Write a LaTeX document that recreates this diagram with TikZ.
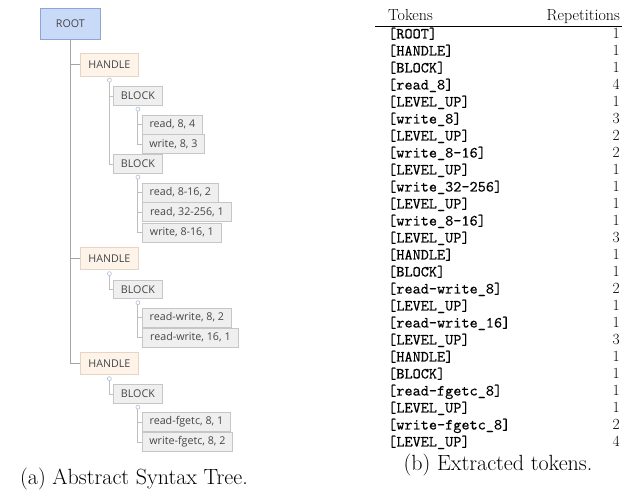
\documentclass[tikz,border=0pt]{standalone}
\usepackage{fontspec}
\newfontfamily\treefont{Open Sans}
\newfontfamily\tokfont{lmmono10-regular.otf}[FakeBold=0.4]
\definecolor{rootfill}{RGB}{201,218,248}
\definecolor{rootdraw}{RGB}{140,165,210}
\definecolor{handfill}{RGB}{253,243,233}
\definecolor{handdraw}{RGB}{232,212,195}
\definecolor{blkfill}{RGB}{239,239,239}
\definecolor{blkdraw}{RGB}{198,198,198}
\definecolor{treetext}{RGB}{70,70,70}
\definecolor{linecol}{RGB}{190,190,190}
\definecolor{rootline}{RGB}{165,165,165}
\definecolor{knob}{RGB}{175,192,220}
\begin{document}
\begin{tikzpicture}[x=1pt,y=-1pt,
  tbox/.style={draw, line width=0.8pt, font=\treefont\fontsize{10.7}{12}\selectfont,
    text=treetext, inner xsep=6pt, inner ysep=0pt, anchor=west},
  rootbox/.style={tbox, fill=rootfill, draw=rootdraw, minimum width=60pt, minimum height=31pt},
  handbox/.style={tbox, fill=handfill, draw=handdraw, minimum width=58pt, minimum height=22.5pt},
  blkbox/.style={tbox, fill=blkfill, draw=blkdraw, minimum width=49pt, minimum height=18.5pt},
  leafbox/.style={tbox, fill=blkfill, draw=blkdraw, minimum height=19pt},
  tline/.style={draw=linecol, line width=0.9pt},
  rline/.style={draw=rootline, line width=1pt},
  knobc/.style={draw=knob, fill=white, line width=0.6pt},
  tok/.style={anchor=base west, inner sep=0pt, font=\tokfont\fontsize{15.5}{16}\selectfont},
  num/.style={anchor=base east, inner sep=0pt, font=\fontsize{15.5}{16}\selectfont},
  hdr/.style={inner sep=0pt, font=\fontsize{16}{18}\selectfont},
  capt/.style={inner sep=0pt, font=\fontsize{22}{24}\selectfont}
]
\useasboundingbox (0,0) rectangle (625,494);

% ---------- tree ----------
\node[rootbox] (root) at (40,23.5) {ROOT};
\node[handbox] (h1) at (80,65) {HANDLE};
\node[blkbox] (b1) at (113,96) {BLOCK};
\node[leafbox, minimum width=60pt] (l1) at (142,124.5) {read, 8, 4};
\node[leafbox, minimum width=62pt] (l2) at (142,144) {write, 8, 3};
\node[blkbox] (b2) at (113,164) {BLOCK};
\node[leafbox, minimum width=76pt] (l3) at (142,192.5) {read, 8-16, 2};
\node[leafbox, minimum width=89pt] (l4) at (142,212) {read, 32-256, 1};
\node[leafbox, minimum width=79pt] (l5) at (142,232.5) {write, 8-16, 1};
\node[handbox] (h2) at (80,258.5) {HANDLE};
\node[blkbox] (b3) at (113,289.5) {BLOCK};
\node[leafbox, minimum width=89pt] (l6) at (142,317.5) {read-write, 8, 2};
\node[leafbox, minimum width=96pt] (l7) at (142,337.5) {read-write, 16, 1};
\node[handbox] (h3) at (80,363.5) {HANDLE};
\node[blkbox] (b4) at (113,394) {BLOCK};
\node[leafbox, minimum width=88pt] (l8) at (142,422) {read-fgetc, 8, 1};
\node[leafbox, minimum width=90pt] (l9) at (142,442) {write-fgetc, 8, 2};

\foreach \p in {h1,h2,h3,b1,b2,b3,b4}
  \coordinate (\p k) at ([yshift=-3.5pt]\p.south);

\draw[rline] (root.south) |- (h1.west);
\draw[rline] (root.south) |- (h2.west);
\draw[rline] (root.south) |- (h3.west);
\draw[tline] (h1k) |- (b1.west);
\draw[tline] (h1k) |- (b2.west);
\draw[tline] (h2k) |- (b3.west);
\draw[tline] (h3k) |- (b4.west);
\draw[tline] (b1k) |- (l1.west);
\draw[tline] (b1k) |- (l2.west);
\draw[tline] (b2k) |- (l3.west);
\draw[tline] (b2k) |- (l4.west);
\draw[tline] (b2k) |- (l5.west);
\draw[tline] (b3k) |- (l6.west);
\draw[tline] (b3k) |- (l7.west);
\draw[tline] (b4k) |- (l8.west);
\draw[tline] (b4k) |- (l9.west);
\foreach \p in {h1,h2,h3,b1,b2,b3,b4}
  \draw[knobc] (\p k) circle (2pt);

\node[capt] (capa) at (134,479) {(a) Abstract Syntax Tree.};

% ---------- table ----------
\node[hdr, anchor=base west] (th1) at (388,20.5) {Tokens};
\node[hdr, anchor=base east] (th2) at (620,20.5) {Repetitions};
\draw[line width=0.9pt] (375,26) -- (622,26);
\foreach \tk/\nm [count=\i] in {
  {[ROOT]}/1, {[HANDLE]}/1, {[BLOCK]}/1, {[read\_8]}/4, {[LEVEL\_UP]}/1,
  {[write\_8]}/3, {[LEVEL\_UP]}/2, {[write\_8-16]}/2, {[LEVEL\_UP]}/1,
  {[write\_32-256]}/1, {[LEVEL\_UP]}/1, {[write\_8-16]}/1, {[LEVEL\_UP]}/3,
  {[HANDLE]}/1, {[BLOCK]}/1, {[read-write\_8]}/2, {[LEVEL\_UP]}/1,
  {[read-write\_16]}/1, {[LEVEL\_UP]}/3, {[HANDLE]}/1, {[BLOCK]}/1,
  {[read-fgetc\_8]}/1, {[LEVEL\_UP]}/1, {[write-fgetc\_8]}/2, {[LEVEL\_UP]}/4}
{
  \pgfmathsetmacro{\yy}{38.5+(\i-1)*17}
  \node[tok] (t\i) at (388,\yy) {\tk};
  \node[num] (n\i) at (620,\yy) {\nm};
}
\node[capt] (capb) at (498,465) {(b) Extracted tokens.};
\end{tikzpicture}
\end{document}
